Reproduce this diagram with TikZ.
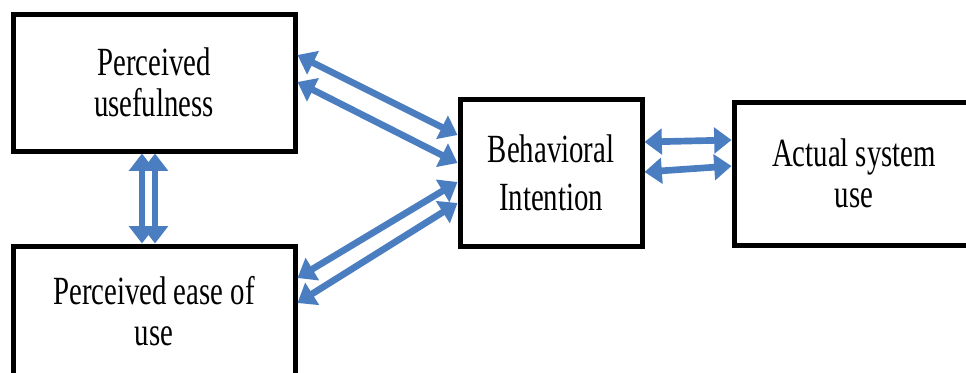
\documentclass[tikz,border=0pt]{standalone}
\usepackage{fontspec}
\setmainfont{Liberation Serif}[FakeStretch=0.72]
\usetikzlibrary{arrows.meta}
\definecolor{linkblue}{RGB}{74,126,193}

\begin{document}
\begin{tikzpicture}[x=0.75pt, y=-0.75pt, >={Triangle[length=13pt, width=19pt]}, box/.style={rectangle, draw=black, fill=white, line width=3.75pt, align=center, inner sep=0pt, font=\fontsize{30}{31}\selectfont}, link/.style={<->, draw=linkblue, line width=5pt}]
        \clip (0,0) rectangle (966,372);
        \node[box, minimum width=211.5pt, minimum height=102.75pt] (pu) at (154,82.5) {Perceived\\usefulness};
        \node[box, minimum width=211.5pt, minimum height=97.5pt] (peu) at (154,311) {Perceived ease of\\use};
        \node[box, minimum width=136.5pt, minimum height=110.25pt, font=\fontsize{30}{36}\selectfont] (bi) at (551,173) {Behavioral\\Intention};
        \node[box, minimum width=180pt, minimum height=107.25pt] (asu) at (854,173.5) {Actual system\\use};

        \path (pu.east |- 0,55) edge [link] (bi.west |- 0,135)
            (pu.east |- 0,82) edge [link] (bi.west |- 0,163)
            (peu.east |- 0,278) edge [link] (bi.west |- 0,182)
            (peu.east |- 0,303) edge [link] (bi.west |- 0,203)
            (pu.south -| 142,0) edge [link] (peu.north -| 142,0)
            (pu.south -| 155,0) edge [link] (peu.north -| 155,0)
            (bi.east |- 0,142) edge [link] (asu.west |- 0,140)
            (bi.east |- 0,172) edge [link] (asu.west |- 0,166);
    \end{tikzpicture}
\end{document}
